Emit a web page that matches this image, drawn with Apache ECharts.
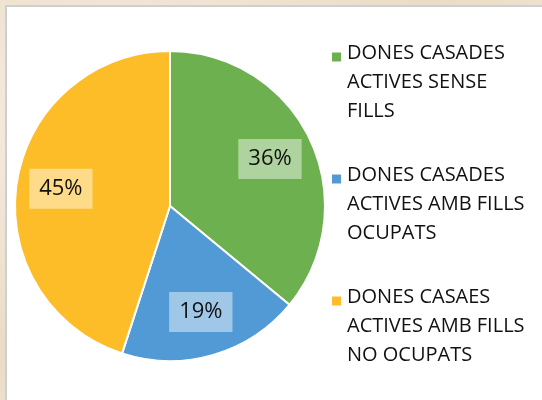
<!DOCTYPE html>
<html>
<head>
<meta charset="utf-8">
<script src="https://cdn.jsdelivr.net/npm/echarts@6/dist/echarts.min.js"></script>
<style>
  html, body { margin: 0; padding: 0; }
  body {
    width: 542px; height: 400px; overflow: hidden; position: relative;
    background: radial-gradient(ellipse at 20% 30%, #f6eee2 0%, #eadcc6 60%, #f1e6d5 100%);
  }
  #panel {
    position: absolute; left: 5px; top: 5px; width: 560px; height: 420px;
    background: #fff; border: 2px solid #cfcfcf; box-sizing: border-box;
  }
  #chart { position: absolute; left: 0; top: 0; width: 542px; height: 400px; }
</style>
</head>
<body>
<div id="panel"></div>
<div id="chart"></div>
<script>
// categories (legend text, line breaks as in the picture)
var categories = [
  'DONES CASADES\nACTIVES SENSE\nFILLS',
  'DONES CASADES\nACTIVES AMB FILLS\nOCUPATS',
  'DONES CASAES\nACTIVES AMB FILLS\nNO OCUPATS'
]
// percentages
var values = [36, 19, 45]
var colors = ['#6db04f', '#519ad5', '#fcbd29']

var pieData = categories.map(function (name, i) {
  return { name: name, value: values[i], itemStyle: { color: colors[i] } }
})

var myChart = echarts.init(document.getElementById('chart'))

var option = {
  animation: false,
  textStyle: { fontFamily: 'Open Sans' },
  legend: {
    orient: 'vertical',
    left: 330,
    top: 39,
    padding: 0,
    itemGap: 35,
    itemWidth: 11,
    itemHeight: 62,
    // square sits at the top of a tall icon box so it lines up with the first text line
    icon: 'path://M0,0h11v11h-11zM0,62L0.01,62',
    data: categories,
    textStyle: {
      fontFamily: 'Open Sans',
      fontSize: 20,
      color: '#111',
      lineHeight: 29
    }
  },
  series: [
    {
      type: 'pie',
      center: [170, 206],
      radius: [0, 155],
      startAngle: 90,
      clockwise: true,
      itemStyle: { borderColor: '#fff', borderWidth: 2 },
      label: { show: false },
      labelLine: { show: false },
      emphasis: { disabled: true },
      data: pieData
    },
    {
      // transparent overlay only used to place the percentage boxes
      type: 'pie',
      center: [170, 206],
      radius: [60, 155],
      startAngle: 90,
      clockwise: true,
      silent: true,
      itemStyle: { color: 'rgba(0,0,0,0)', borderWidth: 0 },
      label: {
        show: true,
        position: 'inside',
        formatter: '{c}%',
        fontFamily: 'Open Sans',
        fontSize: 22,
        lineHeight: 24,
        color: '#111',
        backgroundColor: 'rgba(255,255,255,0.45)',
        padding: [8, 10, 8, 10]
      },
      labelLine: { show: false },
      emphasis: { disabled: true },
      data: categories.map(function (name, i) {
        return { name: name, value: values[i], itemStyle: { color: 'rgba(0,0,0,0)' } }
      })
    }
  ]
}

myChart.setOption(option)
</script>
</body>
</html>
